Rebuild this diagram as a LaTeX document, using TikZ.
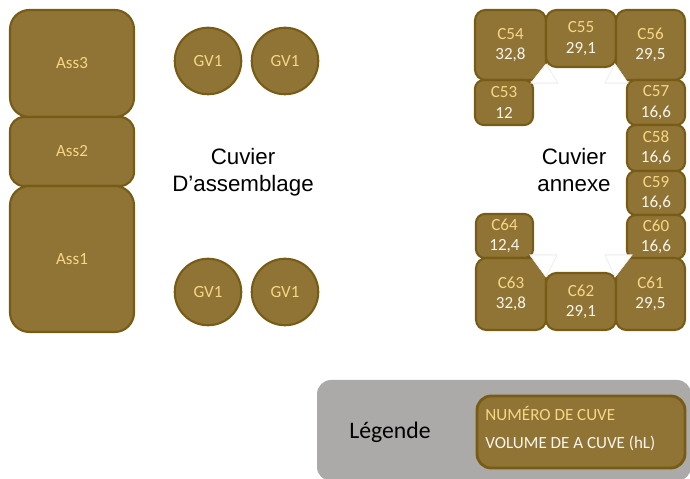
\documentclass[tikz,border=0pt]{standalone}
\usepackage{fontspec}
\setmainfont{Carlito}
\newfontfamily\titrefont{Liberation Sans}

\definecolor{brun}{RGB}{143,116,53}
\definecolor{bord}{RGB}{120,92,22}
\definecolor{numero}{RGB}{247,214,132}
\definecolor{volume}{RGB}{249,245,236}
\definecolor{gris}{RGB}{172,169,169}

\begin{document}
\begin{tikzpicture}
  [x=0.02cm,y=-0.02cm,
   cuve/.style={draw=bord, fill=brun, line width=1.2pt, inner sep=0pt, align=center,
                font=\fontsize{9.7}{11.5}\selectfont},
   rond/.style={circle, draw=bord, fill=brun, line width=1.2pt, minimum size=1.33cm,
                inner sep=0pt, text=numero, font=\fontsize{9.7}{11.5}\selectfont},
   titre/.style={align=center, font=\titrefont\fontsize{12.7}{15.3}\selectfont},
   trou/.style={fill=white, draw=black!8, line width=0.3pt}]

  \useasboundingbox (0,0) rectangle (690,479);

  %%%%%%%%%%%%%%%%%%%%%% CUVIER D'ASSEMBLAGE %%%%%%%%%%%%%%%%%%%%%%

  \foreach \nom/\xa/\ya/\xb/\yb/\rc in {Ass3/10/10/134/117/11pt,Ass2/10/117/134/186/8pt,Ass1/10/186/134/332/11pt}
    \node[cuve, rounded corners=\rc, text=numero,
          minimum width={(\xb-\xa)*0.02cm}, minimum height={(\yb-\ya)*0.02cm}]
          (\nom) at ({(\xa+\xb)/2},{(\ya+\yb)/2}) {\nom};

  \node[rond] (gv_1) at (208,61)  {GV1};
  \node[rond] (gv_2) at (285,61)  {GV1};
  \node[rond] (gv_3) at (208,292) {GV1};
  \node[rond] (gv_4) at (285,292) {GV1};

  \node[titre] (assemblage) at (243,172) {Cuvier\\D’assemblage};

  %%%%%%%%%%%%%%%%%%%%%% CUVIER ANNEXE %%%%%%%%%%%%%%%%%%%%%%

  \foreach \nom/\xa/\ya/\xb/\yb/\vol/\rc in {C54/475/10/546/80/{32,8}/6pt,C55/546/10/616/67/{29,1}/6pt,C56/616/10/685/80/{29,5}/6pt,C53/475/80/533/125/12/5pt,C57/627/80/685/125/{16,6}/5pt,C58/627/125/685/171/{16,6}/5pt,C59/627/171/685/215/{16,6}/5pt,C60/627/215/685/259/{16,6}/5pt,C64/476/214/533/258/{12,4}/5pt,C63/476/258/546/330/{32,8}/6pt,C62/546/273/616/330/{29,1}/6pt,C61/616/258/685/330/{29,5}/6pt}
    \node[cuve, rounded corners=\rc,
          minimum width={(\xb-\xa)*0.02cm}, minimum height={(\yb-\ya)*0.02cm}]
          (\nom) at ({(\xa+\xb)/2},{(\ya+\yb)/2}) {\textcolor{numero}{\nom}\\\textcolor{volume}{\vol}};

  % coins blancs
  \fill[trou] (546,64) -- (558,83) -- (531,83) -- cycle;
  \fill[trou] (615,64) -- (628,83) -- (605,83) -- cycle;
  \fill[trou] (530,255) -- (557,255) -- (546,277) -- cycle;
  \fill[trou] (605,255) -- (632,255) -- (615,277) -- cycle;
  \draw[trou] (546,64) -- (558,83) -- (531,83) -- cycle;
  \draw[trou] (615,64) -- (628,83) -- (605,83) -- cycle;
  \draw[trou] (530,255) -- (557,255) -- (546,277) -- cycle;
  \draw[trou] (605,255) -- (632,255) -- (615,277) -- cycle;

  \node[titre] (annexe) at (574,170) {Cuvier\\annexe};

  %%%%%%%%%%%%%%%%%%%%%% LEGENDE %%%%%%%%%%%%%%%%%%%%%%

  \fill[gris, rounded corners=8pt] (317,380) rectangle (691,481);
  \node[font=\fontsize{13.5}{16}\selectfont] (legende) at (390,432) {Légende};
  \node[cuve, rounded corners=8pt, line width=1.6pt,
        minimum width=4.16cm, minimum height=1.44cm] (cle) at (581,432) {};
  \node[anchor=west, align=left, inner sep=0pt, font=\fontsize{9.7}{15.9}\selectfont]
        (cle_texte) at ([xshift=0.19cm,yshift=0.06cm]cle.west)
        {\textcolor{numero}{NUMÉRO DE CUVE}\\\textcolor{volume}{VOLUME DE A CUVE (hL)}};

\end{tikzpicture}
\end{document}
